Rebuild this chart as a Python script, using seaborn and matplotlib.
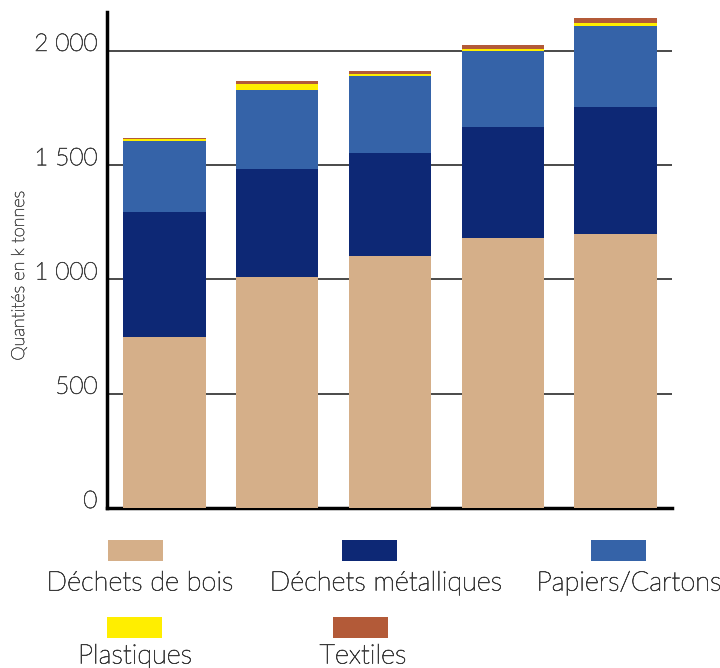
import matplotlib
matplotlib.use("Agg")
import matplotlib.pyplot as plt
import matplotlib.patheffects as pe
from matplotlib.patches import Rectangle
import numpy as np
import pandas as pd
import seaborn as sns

# Tonnages (k tonnes) per period, stacked from bottom to top
periods = ["1", "2", "3", "4", "5"]
bois = [748, 1011, 1103, 1181, 1199]
metal = [547, 472, 450, 486, 556]
papiers = [311, 346, 339, 333, 354]
plastiques = [8, 27, 9, 10, 15]
textiles = [5, 12, 9, 16, 20]

categories = ["Déchets de bois", "Déchets métalliques", "Papiers/Cartons",
              "Plastiques", "Textiles"]
colors = ["#D5AF89", "#0D2875", "#3563A8", "#FFEE00", "#B35A38"]
yticks = [0, 500, 1000, 1500, 2000]

sns.set_theme(style="white")
plt.rcParams["font.family"] = ["Lato", "DejaVu Sans"]
plt.rcParams["font.weight"] = "light"


def firm(color, lw=0.6):
    # thin outline in the text colour so the light face reads clearly
    return [pe.withStroke(linewidth=lw, foreground=color)]


fig = plt.figure(figsize=(7.2, 6.68), dpi=100)
ax = fig.add_axes([0.1486, 0.2395, 0.7844, 0.7425])

df = pd.DataFrame({"periode": periods, "bois": bois, "metal": metal,
                   "papiers": papiers, "plastiques": plastiques,
                   "textiles": textiles})
layers = ["bois", "metal", "papiers", "plastiques", "textiles"]
cum = df[layers].cumsum(axis=1)

# Draw cumulative totals from the top layer down so each layer shows through
for layer, col in zip(reversed(layers), reversed(colors)):
    sns.barplot(data=cum.assign(periode=df["periode"]), x="periode", y=layer,
                color=col, width=0.73, saturation=1, ax=ax, zorder=3,
                linewidth=0)

ax.set_xlim(-0.51, 4.5)
ax.set_ylim(0, 2170)
ax.set_yticks(yticks)
ax.set_yticklabels([])
ax.set_xticks([])
ax.set_xlabel("")
ax.set_ylabel("")
ax.tick_params(axis="y", length=0)

# Tick values sit on their gridlines, right-aligned left of the axis
for v in yticks:
    ax.annotate(f"{v:,}".replace(",", " "), xy=(0, v),
                xycoords=("axes fraction", "data"), xytext=(-7, 0),
                textcoords="offset points", ha="right", va="baseline",
                fontsize=17.5, color="#444444", fontweight="light",
                path_effects=firm("#444444", 0.5))

fig.text(19 / 720, 1 - 276 / 668, "Quantités en k tonnes", rotation=90,
         ha="center", va="center", fontsize=13, color="#555555",
         fontweight="light", path_effects=firm("#555555", 0.4))

for v in yticks[1:]:
    ax.axhline(v, color="#3a3a3a", lw=1.3, zorder=1)

for s in ["top", "right"]:
    ax.spines[s].set_visible(False)
ax.spines["left"].set_color("black")
ax.spines["left"].set_linewidth(2.5)
ax.spines["bottom"].set_color("black")
ax.spines["bottom"].set_linewidth(2.5)

# Legend: swatch above each label
W, H = 720, 668
legend_items = [
    (categories[0], colors[0], 108, 540, 140, 583),
    (categories[1], colors[1], 342, 540, 386, 583),
    (categories[2], colors[2], 591, 540, 629, 583),
    (categories[3], colors[3], 107, 617, 135, 656),
    (categories[4], colors[4], 333, 617, 363, 656),
]
for name, col, sx, sy, tx, ty in legend_items:
    fig.add_artist(Rectangle((sx / W, 1 - (sy + 21) / H), 55 / W, 21 / H,
                             transform=fig.transFigure, color=col, lw=0))
    fig.text(tx / W, 1 - ty / H, name, ha="center", va="center",
             fontsize=19.5, color="#3a3a3a", fontweight="light",
             path_effects=firm("#3a3a3a", 0.5))

fig.savefig("out.png", dpi=100)
